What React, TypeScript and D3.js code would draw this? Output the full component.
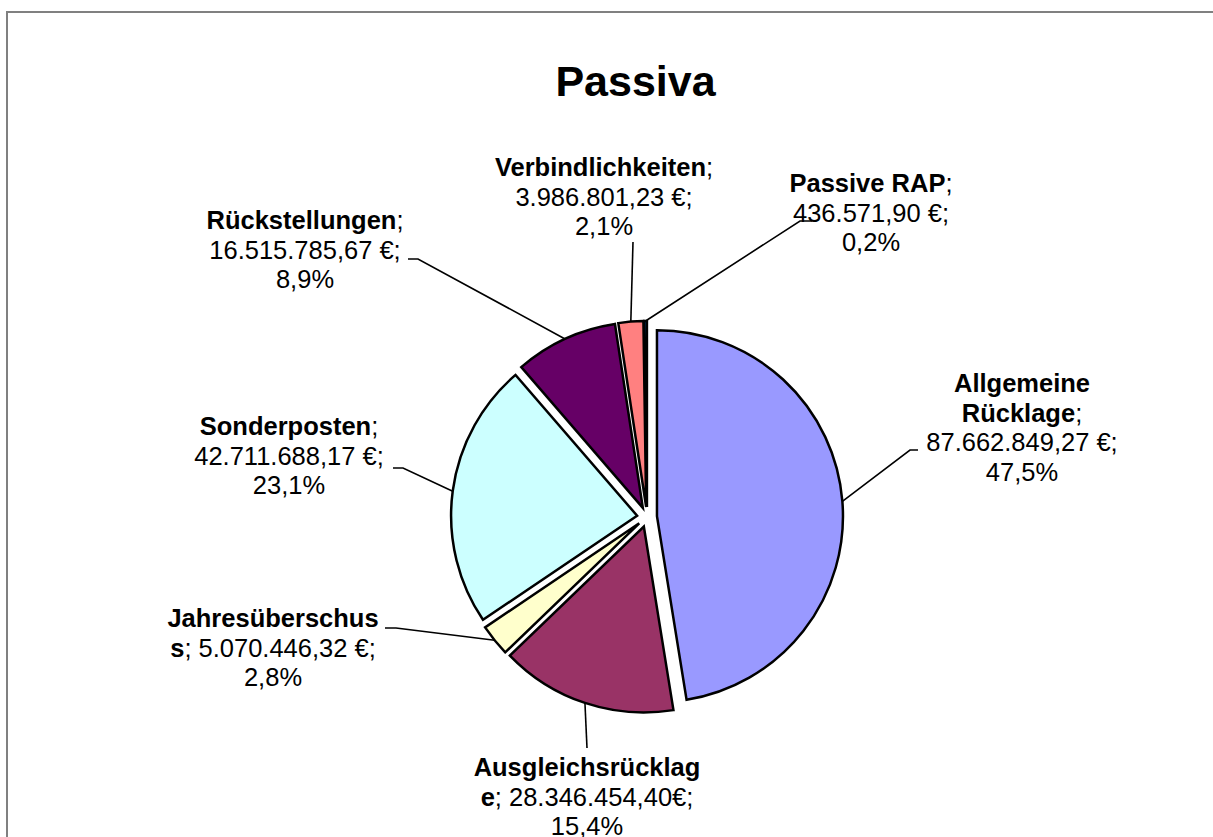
import React from "react";
import * as d3 from "d3";

// Passiva – Bilanzpositionen (Euro)
const categories = [
  "Allgemeine Rücklage",
  "Ausgleichsrücklage",
  "Jahresüberschuss",
  "Sonderposten",
  "Rückstellungen",
  "Verbindlichkeiten",
  "Passive RAP",
];
const values = [
  87662849.27, 28346454.4, 5070446.32, 42711688.17, 16515785.67, 3986801.23,
  436571.9,
];
const valueTexts = [
  "87.662.849,27 €",
  "28.346.454,40€",
  "5.070.446,32 €",
  "42.711.688,17 €",
  "16.515.785,67 €",
  "3.986.801,23 €",
  "436.571,90 €",
];
const percentTexts = ["47,5%", "15,4%", "2,8%", "23,1%", "8,9%", "2,1%", "0,2%"];
const colors = [
  "#9999FF",
  "#993366",
  "#FFFFCC",
  "#CCFFFF",
  "#660066",
  "#FF8080",
  "#0066CC",
];

const W = 1213;
const H = 837;
const cx = 647;
const cy = 517;
const radius = 186;
const explode = 10;
const fontSize = 25.5;
const lineH = 29.5;

// label layout: centre x, first baseline, how the name wraps, leader points near the text
type Wrap = "plain" | "word" | "lastChar";
const labelLayout: { x: number; y: number; wrap: Wrap; leader: [number, number][] }[] = [
  { x: 1022, y: 392, wrap: "word", leader: [[918, 450], [910, 450]] },
  { x: 587, y: 776, wrap: "lastChar", leader: [[587, 748]] },
  { x: 273, y: 627, wrap: "lastChar", leader: [[385, 628], [396, 628]] },
  { x: 289, y: 435, wrap: "plain", leader: [[393, 468], [403, 468]] },
  { x: 305, y: 229, wrap: "plain", leader: [[408, 259], [418, 259]] },
  { x: 604, y: 176, wrap: "plain", leader: [[633, 242]] },
  { x: 871, y: 192, wrap: "plain", leader: [[812, 221], [800, 221]] },
];

// each line = [bold part, normal part]
function buildLines(name: string, val: string, pct: string, wrap: Wrap): [string, string][] {
  if (wrap === "word") {
    const parts = name.split(" ");
    return [
      [parts[0], ""],
      [parts.slice(1).join(" "), ";"],
      ["", val + ";"],
      ["", pct],
    ];
  }
  if (wrap === "lastChar") {
    return [
      [name.slice(0, -1), ""],
      [name.slice(-1), "; " + val + ";"],
      ["", pct],
    ];
  }
  return [
    [name, ";"],
    ["", val + ";"],
    ["", pct],
  ];
}

export default function App() {
  const pie = d3
    .pie<number>()
    .sort(null)
    .value((d) => d)
    .startAngle(0)
    .endAngle(2 * Math.PI);
  const arcs = pie(values);
  const arc = d3.arc<d3.PieArcDatum<number>>().innerRadius(0).outerRadius(radius);

  const line = d3.line();

  return (
    <svg
      width={W}
      height={H}
      style={{ position: "absolute", left: 0, top: 0, background: "#fff" }}
      fontFamily="'Liberation Sans', Arial, sans-serif"
    >
      <rect x={7} y={12} width={W + 20} height={H + 20} fill="#fff" stroke="#808080" strokeWidth={2} />
      <text x={635.5} y={96} textAnchor="middle" fontSize={43} fontWeight="bold" fill="#000">
        Passiva
      </text>

      <g transform={`translate(${cx},${cy})`}>
        {arcs.map((a, i) => {
          const mid = (a.startAngle + a.endAngle) / 2;
          const dx = Math.sin(mid) * explode;
          const dy = -Math.cos(mid) * explode;
          return (
            <path
              key={categories[i]}
              d={arc(a) || ""}
              transform={`translate(${dx},${dy})`}
              fill={colors[i]}
              stroke="#000"
              strokeWidth={2.5}
              strokeLinejoin="miter"
            />
          );
        })}
      </g>

      {arcs.map((a, i) => {
        const mid = (a.startAngle + a.endAngle) / 2;
        const rr = radius + explode;
        const end: [number, number] = [cx + Math.sin(mid) * rr, cy - Math.cos(mid) * rr];
        const pts = [...labelLayout[i].leader, end];
        return (
          <path key={"l" + i} d={line(pts) || ""} fill="none" stroke="#000" strokeWidth={1.6} />
        );
      })}

      {categories.map((c, i) => {
        const lay = labelLayout[i];
        const lines = buildLines(c, valueTexts[i], percentTexts[i], lay.wrap);
        return (
          <g key={"t" + i}>
            {lines.map((ln, j) => (
              <text
                key={j}
                x={lay.x}
                y={lay.y + j * lineH}
                textAnchor="middle"
                fontSize={fontSize}
                fill="#000"
              >
                {ln[0] && <tspan fontWeight="bold">{ln[0]}</tspan>}
                {ln[1] && <tspan>{ln[1]}</tspan>}
              </text>
            ))}
          </g>
        );
      })}
    </svg>
  );
}
